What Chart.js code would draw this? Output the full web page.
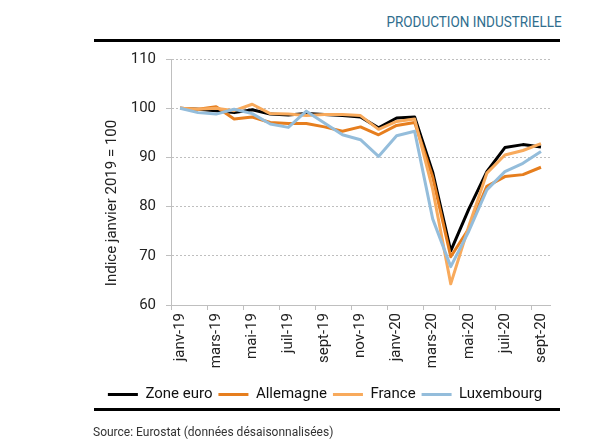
<!DOCTYPE html>
<html>
<head>
<meta charset="utf-8">
<script src="https://cdn.jsdelivr.net/npm/chart.js@4"></script>
<style>
  body { margin: 0; background: #fff; width: 600px; height: 443px; overflow: hidden; position: relative; }
  #title { position: absolute; right: 38px; top: 13px; font: 15px Roboto, sans-serif; color: #2f6e8e;
           transform: scaleX(0.9); transform-origin: right top; white-space: nowrap; }
  .rule { position: absolute; left: 94px; width: 466px; height: 3px; background: #000; }
  #box { position: absolute; left: 0; top: 40px; width: 600px; height: 372px; }
  #source { position: absolute; left: 93px; top: 425px; font: 12px Roboto, sans-serif; color: #333; }
</style>
</head>
<body>
<div id="title">PRODUCTION INDUSTRIELLE</div>
<div class="rule" style="top:39px"></div>
<div id="box"><canvas id="chart"></canvas></div>
<div class="rule" style="top:408px"></div>
<div id="source">Source: Eurostat (données désaisonnalisées)</div>
<script>
const months = ["janv-19", "févr-19", "mars-19", "avr-19", "mai-19", "juin-19", "juil-19", "août-19", "sept-19", "oct-19", "nov-19", "déc-19",
                "janv-20", "févr-20", "mars-20", "avr-20", "mai-20", "juin-20", "juil-20", "août-20", "sept-20"];

const zoneEuro   = [100, 99.8, 99.5, 99.1, 99.7, 98.8, 98.6, 98.9, 98.7, 98.5, 98.2, 96.0, 98.0, 98.2, 87.0, 71.0, 79.5, 87.1, 92.0, 92.6, 92.1];
const allemagne  = [100, 99.8, 100.3, 97.8, 98.2, 97.1, 96.9, 96.9, 96.2, 95.3, 96.2, 94.6, 96.5, 97.1, 86.0, 69.8, 75.5, 84.1, 86.1, 86.5, 88.0];
const france     = [100, 99.8, 100.0, 99.5, 100.8, 98.9, 98.8, 98.5, 98.7, 98.7, 98.5, 95.7, 97.3, 97.8, 83.5, 64.3, 76.0, 86.8, 90.5, 91.4, 92.8];
const luxembourg = [100, 99.1, 98.8, 99.8, 98.9, 96.8, 96.1, 99.4, 97.0, 94.6, 93.6, 90.2, 94.4, 95.3, 77.5, 67.8, 75.0, 83.4, 87.1, 88.8, 91.2];

const yTicks = [60, 70, 80, 90, 100, 110];
const yTitle = "Indice janvier 2019 = 100";

const gridGrey = "#bfbfbf";

function line(label, data, color, order) {
    return {
        label: label,
        data: data,
        borderColor: color,
        backgroundColor: color,
        borderWidth: 3,
        pointRadius: 0,
        tension: 0,
        borderJoinStyle: "round",
        order: order
    };
}

// axis title sits a bit lower than the plot centre, as in the original
const yTitlePlugin = {
    id: "yTitle",
    afterDraw(chart) {
        const c = chart.ctx;
        const area = chart.chartArea;
        c.save();
        c.translate(area.left - 59, (area.top + area.bottom) / 2 + 21);
        c.rotate(-Math.PI / 2);
        c.font = "15px Roboto";
        c.fillStyle = "#222";
        c.textAlign = "center";
        c.textBaseline = "middle";
        c.fillText(yTitle, 0, 0);
        c.restore();
    }
};

const ctx = document.getElementById("chart").getContext("2d");
new Chart(ctx, {
    type: "line",
    data: {
        labels: months,
        datasets: [
            line("Zone euro", zoneEuro, "#000000", 4),
            line("Allemagne", allemagne, "#e67e1e", 3),
            line("France", france, "#f8aa5c", 2),
            line("Luxembourg", luxembourg, "#94bddb", 1)
        ]
    },
    plugins: [yTitlePlugin],
    options: {
        responsive: true,
        maintainAspectRatio: false,
        animation: false,
        layout: { padding: { left: 100, right: 50, top: 1, bottom: 0 } },
        plugins: {
            tooltip: { enabled: false },
            legend: {
                position: "bottom",
                reverse: true,
                labels: {
                    boxWidth: 30,
                    boxHeight: 3,
                    padding: 6,
                    color: "#111",
                    font: { family: "Roboto", size: 15 },
                    generateLabels: chart => Chart.defaults.plugins.legend.labels.generateLabels(chart)
                        .map(item => Object.assign(item, { lineWidth: 0 }))
                }
            }
        },
        scales: {
            x: {
                offset: true,
                afterFit: axis => { axis.height = 76; },
                grid: {
                    offset: true,
                    drawOnChartArea: false,
                    tickLength: 5,
                    color: c => (c.index % 2 === 0 ? gridGrey : "rgba(0,0,0,0)")
                },
                border: { color: gridGrey, width: 1 },
                ticks: {
                    autoSkip: false,
                    maxRotation: 90,
                    minRotation: 90,
                    padding: 3,
                    color: "#222",
                    font: { family: "Roboto", size: 15 },
                    callback: (v, i) => (i % 2 === 0 ? months[i] : "")
                }
            },
            y: {
                min: 60,
                max: 110,
                afterBuildTicks: axis => { axis.ticks = yTicks.map(v => ({ value: v })); },
                afterFit: axis => { axis.width = 71; },
                grid: {
                    color: gridGrey,
                    lineWidth: 1,
                    tickLength: 5,
                    tickBorderDash: []
                },
                border: { color: gridGrey, width: 1, dash: [2, 2] },
                ticks: {
                    padding: 10,
                    color: "#222",
                    font: { family: "Roboto", size: 15 }
                }
            }
        }
    }
});
</script>
</body>
</html>
